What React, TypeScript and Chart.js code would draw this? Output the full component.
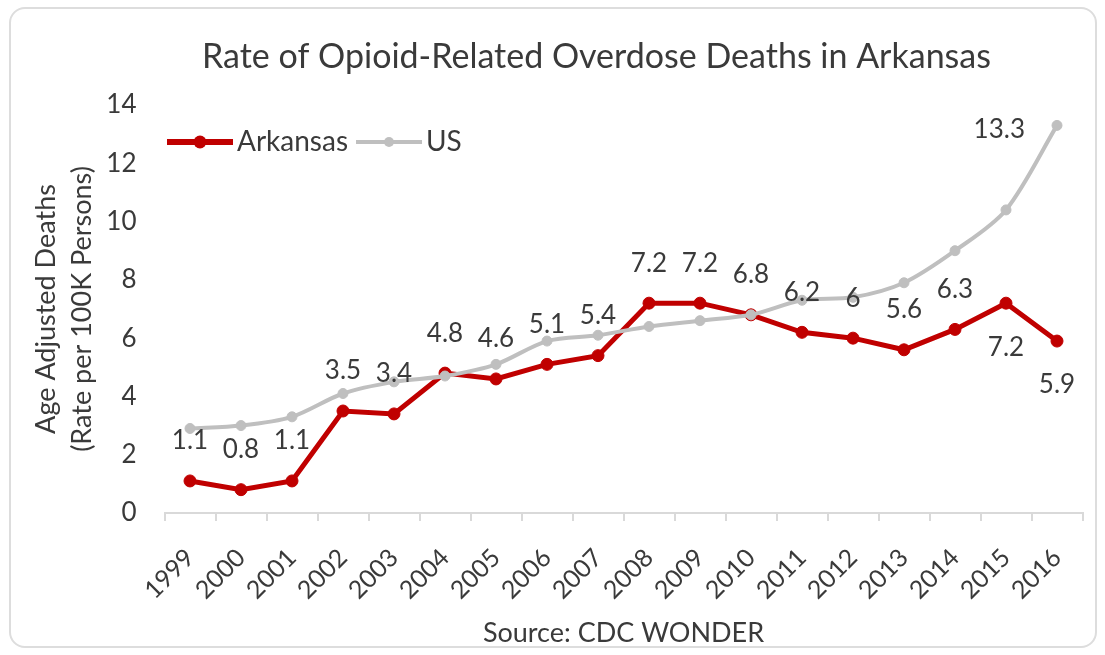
import React, { useEffect, useRef } from 'react';
import { Chart, registerables } from 'chart.js';

Chart.register(...registerables);

const YEARS = ['1999', '2000', '2001', '2002', '2003', '2004', '2005', '2006', '2007', '2008', '2009', '2010', '2011', '2012', '2013', '2014', '2015', '2016'];
const ARKANSAS = [1.1, 0.8, 1.1, 3.5, 3.4, 4.8, 4.6, 5.1, 5.4, 7.2, 7.2, 6.8, 6.2, 6, 5.6, 6.3, 7.2, 5.9];
const US = [2.9, 3.0, 3.3, 4.1, 4.5, 4.7, 5.1, 5.9, 6.1, 6.4, 6.6, 6.8, 7.3, 7.4, 7.9, 9.0, 10.4, 13.3];
const Y_TICKS = [0, 2, 4, 6, 8, 10, 12, 14];
const ARK_LABELS_BELOW = ['2015', '2016'];
const US_LABELED = ['2016'];
const SERIES_NAMES = ['Arkansas', 'US'];

const TITLE = 'Rate of Opioid-Related Overdose Deaths in Arkansas';
const Y_TITLE = ['Age Adjusted Deaths', '(Rate per 100K Persons)'];
const X_TITLE = 'Source: CDC WONDER';

const FONT = 'Lato, "Open Sans", sans-serif';
const ARK_COLOR = '#C00000';
const US_COLOR = '#BFBFBF';
const TEXT_COLOR = '#3A3A3A';

const fmt = (v: number) => String(v);

const titlePlugin = {
  id: 'customTitle',
  afterDraw(chart: any) {
    const ctx = chart.ctx;
    ctx.save();
    ctx.font = `34px ${FONT}`;
    ctx.fillStyle = TEXT_COLOR;
    ctx.textAlign = 'center';
    ctx.textBaseline = 'middle';
    ctx.fillText(TITLE, chart.chartArea.left + 432, 57);
    ctx.restore();
  },
};

const legendPlugin = {
  id: 'customLegend',
  afterDraw(chart: any) {
    const ctx = chart.ctx;
    const items = [
      { label: SERIES_NAMES[0], color: ARK_COLOR, lw: 6, r: 6.5 },
      { label: SERIES_NAMES[1], color: US_COLOR, lw: 4, r: 5 },
    ];
    ctx.save();
    ctx.font = `28px ${FONT}`;
    ctx.textBaseline = 'middle';
    ctx.textAlign = 'left';
    let x = chart.chartArea.left + 2.5;
    const y = chart.chartArea.top + 37;
    items.forEach((it) => {
      ctx.strokeStyle = it.color;
      ctx.lineWidth = it.lw;
      ctx.beginPath();
      ctx.moveTo(x, y);
      ctx.lineTo(x + 66, y);
      ctx.stroke();
      ctx.fillStyle = it.color;
      ctx.beginPath();
      ctx.arc(x + 33, y, it.r, 0, Math.PI * 2);
      ctx.fill();
      ctx.fillStyle = TEXT_COLOR;
      ctx.fillText(it.label, x + 70, y);
      x += 70 + ctx.measureText(it.label).width + 8;
    });
    ctx.restore();
  },
};

const labelPlugin = {
  id: 'pointLabels',
  afterDatasetsDraw(chart: any) {
    const ctx = chart.ctx;
    ctx.save();
    ctx.font = `26px ${FONT}`;
    ctx.fillStyle = TEXT_COLOR;
    ctx.textBaseline = 'middle';
    const ark = chart.getDatasetMeta(0);
    ctx.textAlign = 'center';
    ark.data.forEach((pt: any, i: number) => {
      const below = ARK_LABELS_BELOW.includes(YEARS[i]);
      ctx.fillText(fmt(ARKANSAS[i]), pt.x, pt.y + (below ? 44 : -40));
    });
    const us = chart.getDatasetMeta(1);
    ctx.textAlign = 'right';
    us.data.forEach((pt: any, i: number) => {
      if (US_LABELED.includes(YEARS[i])) {
        ctx.fillText(fmt(US[i]), pt.x - 32, pt.y + 4);
      }
    });
    ctx.restore();
  },
};

export default function App() {
  const ref = useRef<HTMLCanvasElement | null>(null);

  useEffect(() => {
    if (!ref.current) return;
    const chart = new Chart(ref.current, {
      type: 'line',
      data: {
        labels: YEARS,
        datasets: [
          {
            label: SERIES_NAMES[0],
            data: ARKANSAS,
            borderColor: ARK_COLOR,
            backgroundColor: ARK_COLOR,
            borderWidth: 5,
            pointRadius: 6,
            pointBorderWidth: 1,
            pointBackgroundColor: ARK_COLOR,
            pointBorderColor: ARK_COLOR,
            tension: 0,
            order: 1,
          },
          {
            label: SERIES_NAMES[1],
            data: US,
            borderColor: US_COLOR,
            backgroundColor: US_COLOR,
            borderWidth: 4,
            pointRadius: 5,
            pointBorderWidth: 1,
            pointBackgroundColor: US_COLOR,
            pointBorderColor: US_COLOR,
            tension: 0.3,
            order: 0,
          },
        ],
      },
      options: {
        animation: false,
        responsive: true,
        maintainAspectRatio: false,
        layout: { padding: { top: 105, left: 10, right: 22.5, bottom: 0 } },
        plugins: {
          legend: { display: false },
          title: { display: false },
          tooltip: { enabled: false },
        },
        scales: {
          x: {
            type: 'category',
            offset: true,
            grid: {
              display: true,
              drawOnChartArea: false,
              drawTicks: true,
              tickLength: 8,
              color: '#D9D9D9',
              lineWidth: 2,
              offset: true,
            },
            border: { display: true, color: '#D9D9D9', width: 2 },
            ticks: {
              autoSkip: false,
              minRotation: 45,
              maxRotation: 45,
              padding: 22,
              color: TEXT_COLOR,
              font: { family: FONT, size: 25 },
            },
            title: {
              display: true,
              text: X_TITLE,
              color: TEXT_COLOR,
              font: { family: FONT, size: 27 },
              padding: { top: 0, bottom: 6 },
            },
            afterFit: (scale: any) => {
              scale.height = 142;
            },
          },
          y: {
            min: Y_TICKS[0],
            max: Y_TICKS[Y_TICKS.length - 1],
            grid: { display: false, drawTicks: false },
            border: { display: false },
            ticks: {
              stepSize: Y_TICKS[1] - Y_TICKS[0],
              padding: 28,
              color: TEXT_COLOR,
              font: { family: FONT, size: 26 },
            },
            title: {
              display: true,
              text: Y_TITLE,
              color: TEXT_COLOR,
              font: { family: FONT, size: 27, lineHeight: 1.35 },
              padding: { top: 18, bottom: 0 },
            },
            afterFit: (scale: any) => {
              scale.width = 154.5;
            },
          },
        },
      },
      plugins: [labelPlugin, legendPlugin, titlePlugin],
    } as any);
    return () => chart.destroy();
  }, []);

  return (
    <div style={{ position: 'fixed', left: 0, top: 0, width: 1105, height: 655, background: '#FFFFFF' }}>
      <div
        style={{
          position: 'absolute',
          left: 9,
          top: 7,
          width: 1088,
          height: 641,
          boxSizing: 'border-box',
          border: '2px solid #DDDDDD',
          borderRadius: 16,
        }}
      />
      <div style={{ position: 'absolute', left: 0, top: 0, width: 1105, height: 655 }}>
        <canvas ref={ref} />
      </div>
    </div>
  );
}
